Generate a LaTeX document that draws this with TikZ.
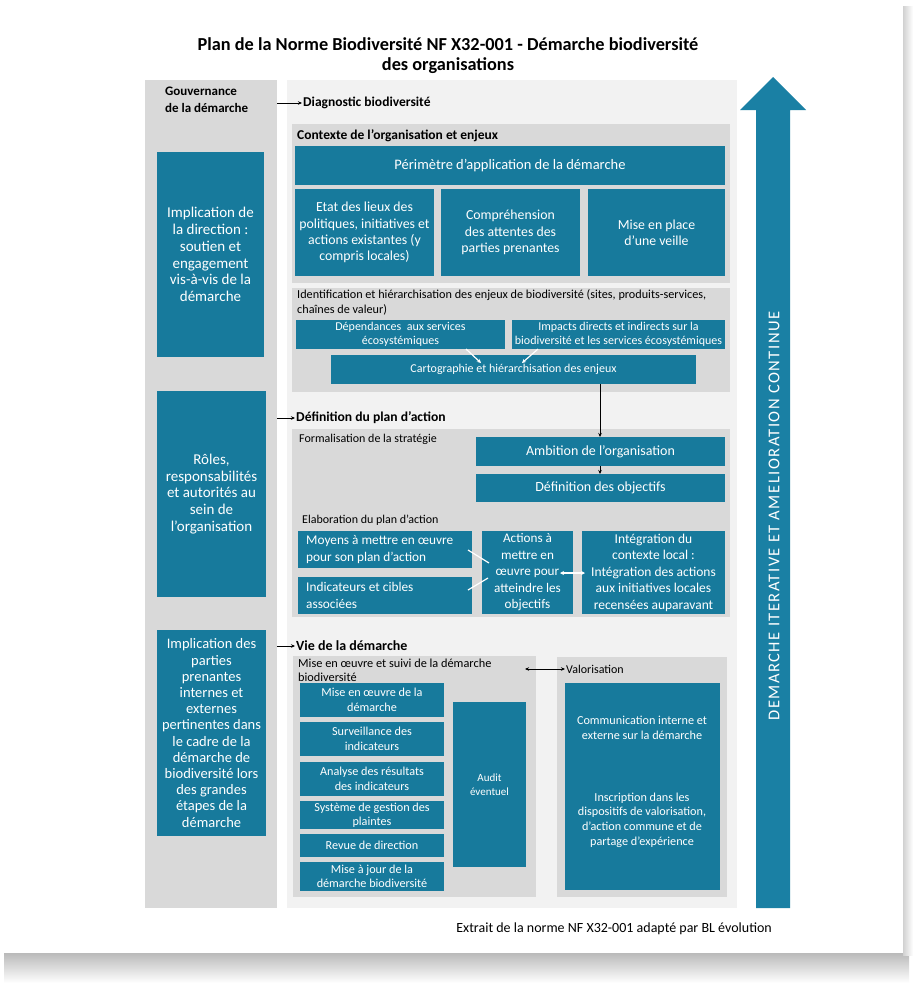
\documentclass[tikz,border=0pt]{standalone}
\usepackage{fontspec}
\setmainfont{Carlito}
\usetikzlibrary{arrows.meta}
\definecolor{bl}{HTML}{177A9C}
\definecolor{arrbl}{HTML}{1A80A4}
\definecolor{gr}{HTML}{D9D9D9}
\definecolor{lg}{HTML}{F2F2F2}
\newcommand{\bx}[7][]{\node[#1, minimum width={(#4-#2)*1pt}, minimum height={(#5-#3)*1pt}] (#6) at ({(#2+#4)/2},{(#3+#5)/2}) {#7};}
\newcommand{\fs}[2]{\fontsize{#1}{#2}\selectfont}
\tikzset{
  panel/.style={fill=gr, inner sep=0pt, outer sep=0pt},
  lpanel/.style={fill=lg, inner sep=0pt, outer sep=0pt},
  bbox/.style={fill=bl, text=white, inner sep=0pt, outer sep=0pt, align=center},
  lbl/.style={anchor=west, inner sep=1pt, align=left},
  arr/.style={-{Stealth[length=4pt,width=3.5pt]}, line width=0.9pt, black},
  warr/.style={-{Stealth[length=4pt,width=4pt]}, line width=1.2pt, white},
}
\begin{document}
\begin{tikzpicture}[x=1pt,y=-1pt]
\useasboundingbox (0,0) rectangle (913,983);
\fill[white] (0,0) rectangle (913,983);
% card shadow
\shade[top color=black!28, bottom color=white] (4,952) rectangle (909,983);
\shade[left color=black!18, right color=white] (903,6) rectangle (913,955);
\fill[white] (2,0) rectangle (903,953);

% title
\node[font=\bfseries\fs{18.3}{20.5}, align=center] (title) at (448,55.5) {Plan de la Norme Biodiversité NF X32-001 - Démarche biodiversité\\des organisations};

% columns
\bx[panel]{145}{80}{277}{908}{gov}{}
\bx[lpanel]{287}{80}{737}{908}{main}{}

\node[lbl, inner sep=0pt, font=\bfseries\fs{13}{16.5}] (govlbl) at (165,100) {Gouvernance\\de la démarche};

\bx[bbox, font=\fs{15}{16.7}]{157}{152}{264}{357}{g1}{Implication de\\la direction :\\soutien et\\engagement\\vis-à-vis de la\\démarche}
\bx[bbox, font=\fs{15}{16.7}]{157}{391}{266}{597}{g2}{Rôles,\\responsabilités\\et autorités au\\sein de\\l’organisation}
\bx[bbox, font=\fs{14.5}{16.2}]{157}{630}{266}{836}{g3}{Implication des\\parties\\prenantes\\internes et\\externes\\pertinentes dans\\le cadre de la\\démarche de\\biodiversité lors\\des grandes\\étapes de la\\démarche}

% Diagnostic
\node[lbl, font=\bfseries\fs{13.5}{15}] (diag) at (302,103) {Diagnostic biodiversité};
\draw[arr] (gov.east |- diag.west) -- (diag.west);

\bx[panel]{292}{124}{730}{283}{ctx}{}
\node[lbl, font=\bfseries\fs{13.5}{15}] (ctxl) at (296,136) {Contexte de l’organisation et enjeux};
\bx[bbox, font=\fs{14.5}{16}]{295}{146}{725}{185}{peri}{Périmètre d’application de la démarche}
\bx[bbox, font=\fs{13.8}{16.2}]{295}{189}{434}{276}{etat}{Etat des lieux des\\politiques, initiatives et\\actions existantes (y\\compris locales)}
\bx[bbox, font=\fs{13.8}{16.2}]{441}{189}{580}{276}{comp}{Compréhension\\des attentes des\\parties prenantes}
\bx[bbox, font=\fs{13.8}{16.2}]{588}{189}{725}{276}{veille}{Mise en place\\d’une veille}

\bx[panel]{292}{288}{730}{392}{ident}{}
\node[lbl, inner sep=0pt, font=\fs{12.2}{15}] (identl) at (297,302) {Identification et hiérarchisation des enjeux de biodiversité (sites, produits-services,\\chaînes de valeur)};
\bx[bbox, font=\fs{12}{14}]{296}{320}{505}{349}{dep}{Dépendances\ \ aux services\\écosystémiques}
\bx[bbox, font=\fs{12}{14}]{512}{320}{725}{349}{imp}{Impacts directs et indirects sur la\\biodiversité et les services écosystémiques}
\bx[bbox, font=\fs{12}{14}]{331}{355}{696}{384}{carto}{Cartographie et hiérarchisation des enjeux}
\coordinate (c1) at (481,363);
\coordinate (c2) at (522,363);
\draw[warr] (dep.south -| 466,0) -- (c1);
\draw[warr] (imp.south -| 538,0) -- (c2);

% Definition
\node[lbl, font=\bfseries\fs{13.6}{15}] (defl) at (295,418) {Définition du plan d’action};
\draw[arr] (gov.east |- defl.west) -- (defl.west);

\bx[panel]{292}{429}{730}{617}{form}{}
\node[lbl, font=\fs{12}{14}] (forml) at (298,439) {Formalisation de la stratégie};
\bx[bbox, font=\fs{14}{15}]{476}{437}{725}{466}{amb}{Ambition de l’organisation}
\bx[bbox, font=\fs{14}{15}]{476}{474}{725}{502}{obj}{Définition des objectifs}
\draw[arr] (carto.south -| 600,0) -- (amb.north -| 600,0);
\draw[arr] (amb.south -| 600,0) -- (obj.north -| 600,0);

\node[lbl, font=\fs{12}{14}] (elabl) at (301,520) {Elaboration du plan d’action};
\bx[bbox]{298}{531}{472}{568}{moy}{}
\node[lbl, inner sep=0pt, text=white, font=\fs{13.3}{16.2}] (moyt) at (306,549.5) {Moyens à mettre en œuvre\\pour son plan d’action};
\bx[bbox]{298}{577}{472}{614}{ind}{}
\node[lbl, inner sep=0pt, text=white, font=\fs{13.3}{16.2}] (indt) at (306,595.5) {Indicateurs et cibles\\associées};
\bx[bbox, font=\fs{13.2}{16.5}]{482}{531}{573}{614}{act}{Actions à\\mettre en\\œuvre pour\\atteindre les\\objectifs}
\bx[bbox, font=\fs{13.5}{16.5}]{582}{531}{725}{614}{integ}{Intégration du\\contexte local :\\Intégration des actions\\aux initiatives locales\\recensées auparavant}
\coordinate (a1) at (489,563);
\coordinate (a2) at (488,578);
\draw[white, line width=1.2pt] (moy.east |- 0,550) ++(-4,0) -- (a1);
\draw[white, line width=1.2pt] (ind.east |- 0,590) ++(-4,0) -- (a2);
\draw[white, line width=1.2pt, {Stealth[length=4pt,width=4pt]}-{Stealth[length=4pt,width=4pt]}] (560,573) -- (585,573);

% Vie de la demarche
\node[lbl, font=\bfseries\fs{14}{15}] (viel) at (295,646) {Vie de la démarche};
\draw[arr] (gov.east |- viel.west) -- (viel.west);

\bx[panel]{293}{656}{536}{897}{suivi}{}
\node[lbl, inner sep=0pt, font=\fs{12.3}{14}] (suivil) at (298,670) {Mise en œuvre et suivi de la démarche\\biodiversité};
\bx[bbox, font=\fs{12.2}{14.5}]{300}{683}{444}{717}{s1}{Mise en œuvre de la\\démarche}
\bx[bbox, font=\fs{12.2}{14.5}]{300}{722}{444}{756}{s2}{Surveillance des\\indicateurs}
\bx[bbox, font=\fs{12.2}{14.5}]{300}{762}{444}{796}{s3}{Analyse des résultats\\des indicateurs}
\bx[bbox, font=\fs{12.2}{14.5}]{300}{801}{444}{829}{s4}{Système de gestion des\\plaintes}
\bx[bbox, font=\fs{12.2}{14.5}]{300}{834}{444}{857}{s5}{Revue de direction}
\bx[bbox, font=\fs{12.2}{14.5}]{300}{862}{444}{891}{s6}{Mise à jour de la\\démarche biodiversité}
\bx[bbox, font=\fs{11}{14.5}]{453}{702}{526}{867}{audit}{Audit\\éventuel}

\bx[panel]{557}{657}{727}{897}{valo}{}
\node[lbl, font=\fs{12}{14}] (valol) at (565,669) {Valorisation};
\bx[bbox]{565}{683}{720}{890}{valob}{}
\node[font=\fs{12.2}{14.7}, text=white, align=center] (com) at (642,728) {Communication interne et\\externe sur la démarche};
\node[font=\fs{12.2}{14.6}, text=white, align=center] (insc) at (642,820) {Inscription dans les\\dispositifs de valorisation,\\d’action commune et de\\partage d’expérience};
\draw[arr, {Stealth[length=4pt,width=3.5pt]}-{Stealth[length=4pt,width=3.5pt]}] (525,669) -- (valol.west);

% big arrow
\fill[arrbl] (756,908) -- (756,110) -- (740,110) -- (773,77) -- (806,110) -- (790,110) -- (790,908) -- cycle;
\node[rotate=90, text=white, font=\fs{16.5}{18}\addfontfeature{LetterSpace=9}] (iter) at (774,516) {DEMARCHE ITERATIVE ET AMELIORATION CONTINUE};

% footer
\node[anchor=east, inner sep=0pt, font=\fs{14}{15}] (foot) at (772,929) {Extrait de la norme NF X32-001 adapté par BL évolution};
\end{tikzpicture}
\end{document}
